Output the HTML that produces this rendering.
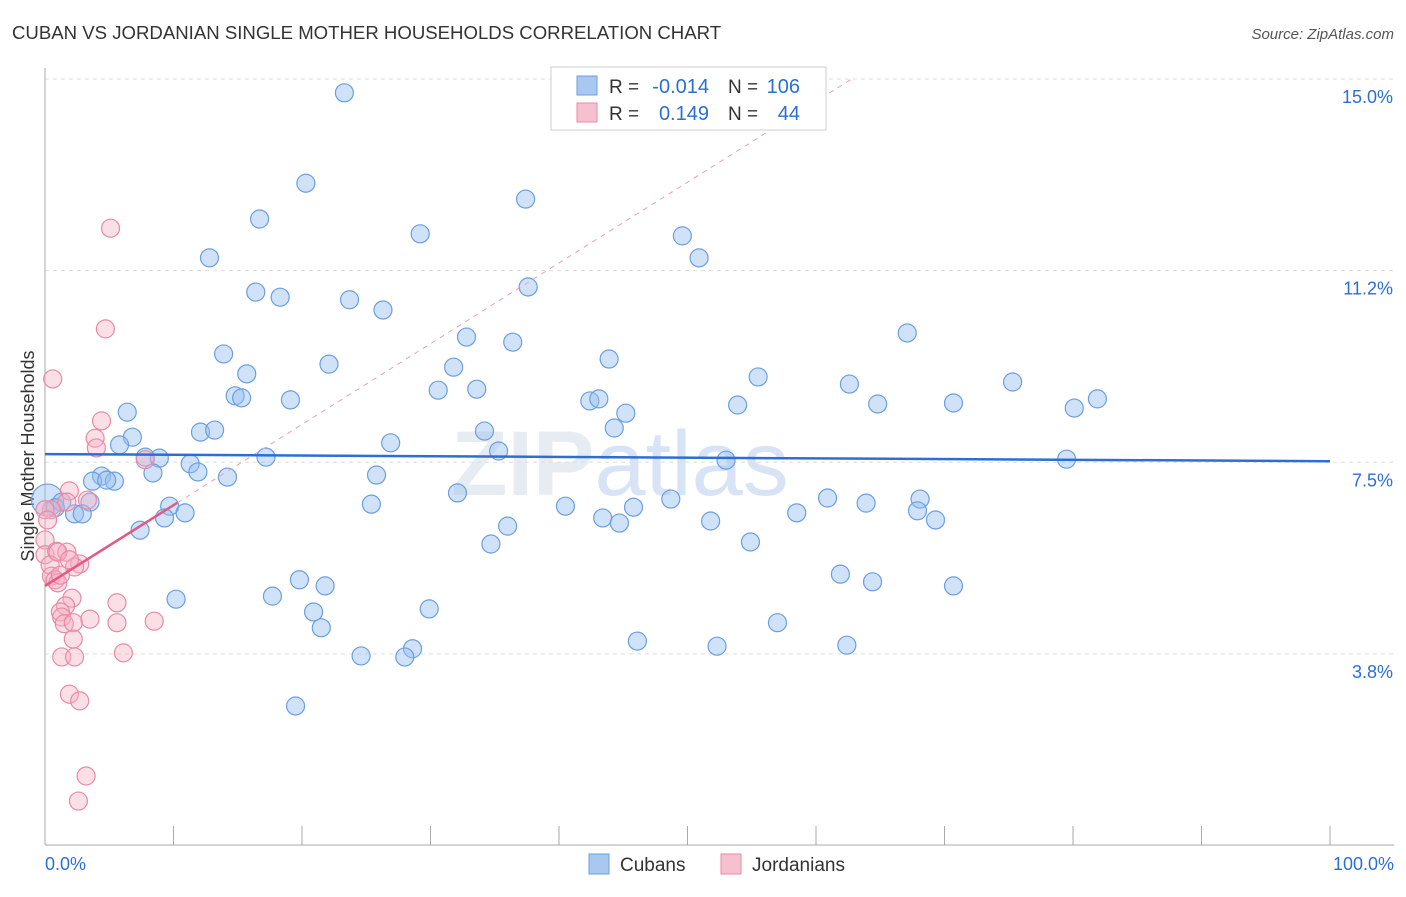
<!DOCTYPE html>
<html><head><meta charset="utf-8"><style>
body{margin:0;background:#fff;font-family:"Liberation Sans",sans-serif;}
svg text{font-family:"Liberation Sans",sans-serif;}
</style></head><body>
<svg id="c" width="1406" height="892">
<text x="12" y="39" font-size="18.6" fill="#333">CUBAN VS JORDANIAN SINGLE MOTHER HOUSEHOLDS CORRELATION CHART</text>
<text x="1394" y="39" font-size="15" fill="#555" font-style="italic" text-anchor="end">Source: ZipAtlas.com</text>
<text x="34" y="456" font-size="18" fill="#333" text-anchor="middle" transform="rotate(-90 34 456)">Single Mother Households</text>
<text x="620" y="495" font-size="92" fill="#dde4ee" font-weight="bold" text-anchor="middle" opacity="0.7">ZIP<tspan font-weight="normal" fill="#c8daf2">atlas</tspan></text>
<g id="grid"></g><g id="marks"></g>
<g>
<rect x="551" y="67" width="275" height="63" fill="#fff" stroke="#ccc"/>
<rect x="577" y="76" width="20" height="19" fill="#a9c8f0" stroke="#6a9fe0"/>
<rect x="577" y="103" width="20" height="19" fill="#f7c0d0" stroke="#e88aa5"/>
<text x="609" y="93" font-size="19" fill="#333">R =</text>
<text x="709" y="93" font-size="20" fill="#2b6fd6" text-anchor="end">-0.014</text>
<text x="728" y="93" font-size="19" fill="#333">N =</text>
<text x="800" y="93" font-size="20" fill="#2b6fd6" text-anchor="end">106</text>
<text x="609" y="120" font-size="19" fill="#333">R =</text>
<text x="709" y="120" font-size="20" fill="#2b6fd6" text-anchor="end">0.149</text>
<text x="728" y="120" font-size="19" fill="#333">N =</text>
<text x="800" y="120" font-size="20" fill="#2b6fd6" text-anchor="end">44</text>
</g>
<g>
<rect x="589" y="854" width="20" height="20" fill="#a9c8f0" stroke="#6a9fe0"/>
<text x="620" y="871" font-size="19" fill="#333">Cubans</text>
<rect x="721" y="854" width="20" height="20" fill="#f7c0d0" stroke="#e88aa5"/>
<text x="752" y="871" font-size="19" fill="#333">Jordanians</text>
</g>
</svg>
<script>
const yTicks=[15.0,11.25,7.5,3.75];
const yTickLabels=["15.0%","11.2%","7.5%","3.8%"];
const xTickLabels=["0.0%","100.0%"];
const cubanX=[23.3,20.3,16.7,37.4,29.2,49.6,12.8,50.9,16.4,18.3,23.7,37.6,26.3,67.1,32.8,36.4,13.9,22.1,43.9,31.8,15.7,55.5,62.6,75.3,30.6,33.6,14.8,15.3,19.1,42.4,43.1,53.9,64.8,70.7,81.9,80.1,6.4,45.2,44.3,12.1,13.2,34.2,6.8,26.9,5.8,35.3,7.8,8.9,17.2,53.0,79.5,11.3,8.4,11.9,4.4,25.8,14.2,3.7,5.4,4.8,32.1,48.7,40.5,60.9,63.9,68.1,25.4,45.8,0.2,1.3,3.5,0.8,9.7,10.9,2.3,2.9,9.3,67.9,43.4,44.7,51.8,58.5,69.3,36.0,7.4,34.7,54.9,19.8,21.8,61.9,64.4,70.7,17.7,10.2,29.9,20.9,21.5,57.0,46.1,52.3,62.4,24.6,28.6,28.0,19.5];
const cubanY=[14.73,12.96,12.26,12.65,11.97,11.93,11.50,11.50,10.83,10.73,10.68,10.93,10.48,10.03,9.95,9.85,9.62,9.42,9.52,9.36,9.23,9.17,9.03,9.07,8.91,8.93,8.80,8.76,8.72,8.70,8.74,8.62,8.64,8.66,8.74,8.56,8.48,8.46,8.17,8.09,8.13,8.11,7.99,7.88,7.84,7.72,7.60,7.58,7.60,7.54,7.56,7.47,7.29,7.31,7.23,7.25,7.21,7.13,7.13,7.15,6.90,6.78,6.64,6.80,6.70,6.78,6.68,6.62,6.76,6.72,6.72,6.61,6.64,6.51,6.49,6.49,6.41,6.55,6.41,6.31,6.35,6.51,6.37,6.25,6.17,5.90,5.94,5.20,5.08,5.31,5.16,5.08,4.88,4.82,4.63,4.57,4.26,4.36,4.00,3.90,3.92,3.71,3.85,3.69,2.73];
const jordX=[5.1,4.7,0.6,4.4,3.9,4.0,7.8,1.9,1.7,3.3,0.5,0,0,0.9,1.7,0.4,2.7,2.3,0.5,0.8,1.0,2.1,1.6,1.2,1.3,1.5,2.2,3.5,5.6,5.6,8.5,2.2,1.3,2.3,6.1,1.9,2.7,3.2,2.6,0,0.2,1.0,1.9,1.2];
const jordY=[12.08,10.11,9.13,8.31,7.97,7.78,7.55,6.94,6.72,6.76,6.57,5.98,5.69,5.76,5.74,5.49,5.51,5.45,5.27,5.20,5.14,4.84,4.69,4.57,4.47,4.34,4.36,4.43,4.75,4.36,4.39,4.04,3.69,3.69,3.77,2.96,2.83,1.36,0.87,6.57,6.37,5.74,5.59,5.29];
const cubanTrend=[7.66,7.52];
const jordTrend=[5.08,0.158];
const X=v=>45+v*12.85, Y=v=>79+(15-v)*51.1;
const NS="http://www.w3.org/2000/svg";
function mk(tag,attrs,parent){const e=document.createElementNS(NS,tag);for(const k in attrs)e.setAttribute(k,attrs[k]);parent.appendChild(e);return e;}
const grid=document.getElementById('grid'),marks=document.getElementById('marks');
yTicks.forEach((t,i)=>{
 const l=mk('line',{x1:45,x2:1394,y1:Y(t),y2:Y(t),stroke:'#ddd','stroke-dasharray':'4,4'},grid);
 
 
 const tx=mk('text',{x:1393,y:Y(t)+24,'font-size':18,fill:'#2b6fd6','text-anchor':'end'},grid);tx.textContent=yTickLabels[i];
 
 
});
const ax=mk('line',{x1:45,x2:45,y1:68,y2:845,stroke:'#aaa'},grid);


const bx=mk('line',{x1:45,x2:1394,y1:845,y2:845,stroke:'#aaa'},grid);


for(let i=0;i<=10;i++){const t=mk('line',{x1:X(i*10),x2:X(i*10),y1:826,y2:845,stroke:'#aaa'},grid);
 
 }
[[0,'start',45],[100,'end',1394]].forEach((d,i)=>{const t=mk('text',{x:d[2],y:870,'font-size':18,fill:'#2b6fd6','text-anchor':d[1]},grid);t.textContent=xTickLabels[i];
 
 });
cubanX.forEach((v,i)=>{const r=(v<0.5&&cubanY[i]>6.7)?16:9;const c=mk('circle',{cx:X(v),cy:Y(cubanY[i]),r:r,fill:'rgba(150,190,240,0.45)',stroke:'#6a9fe0','stroke-width':1.2},marks);
 
 });
jordX.forEach((v,i)=>{const c=mk('circle',{cx:X(v),cy:Y(jordY[i]),r:9,fill:'rgba(245,175,195,0.4)',stroke:'#e88aa5','stroke-width':1.2},marks);
 
 });
const jEnd=(15-jordTrend[0])/jordTrend[1];
const d1=mk('line',{x1:X(10.3),y1:Y(jordTrend[0]+jordTrend[1]*10.3),x2:X(jEnd),y2:Y(15),stroke:'#e8a0b5','stroke-dasharray':'5,5'},marks);


const l2=mk('line',{x1:X(0),y1:Y(jordTrend[0]),x2:X(10.3),y2:Y(jordTrend[0]+jordTrend[1]*10.3),stroke:'#e05a85','stroke-width':2.5},marks);


const l1=mk('line',{x1:X(0),y1:Y(cubanTrend[0]),x2:X(100),y2:Y(cubanTrend[1]),stroke:'#2b6fd6','stroke-width':2.5},marks);


</script>
</body></html>
